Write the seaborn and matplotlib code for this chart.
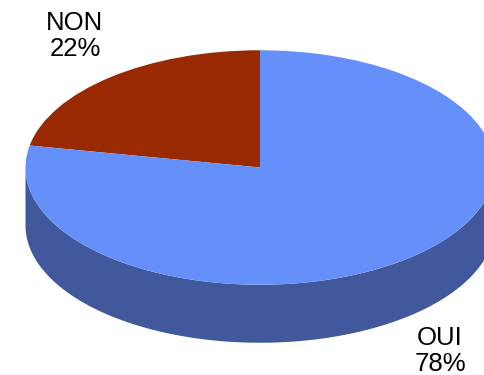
import numpy as np
import matplotlib
matplotlib.use("Agg")
import matplotlib.pyplot as plt
import seaborn as sns

# donnees du sondage
labels = ["NON", "OUI"]
values = [22, 78]
top_colors = ["#992900", "#6690F9"]
side_colors = ["#6e1d00", "#41599C"]

sns.set_style("white")
plt.rcParams['font.family'] = ['Liberation Sans', 'DejaVu Sans']

W, H = 484, 375
fig = plt.figure(figsize=(W / 100, H / 100), dpi=100)
ax = fig.add_axes([0, 0, 1, 1])

# y en demi-pixels -> le cercle du camembert devient une ellipse
def py(y):
    return (H - y) * 2

cx, cy = 260, py(167.5)
r = 234.5
depth = 58 * 2

wedges, _ = ax.pie(values, colors=top_colors, startangle=90, counterclock=True,
                   center=(cx, cy), radius=r, wedgeprops=dict(linewidth=0))
for w in wedges:
    w.set_zorder(3)

# bord visible (face avant, angles 180..360)
for w, col in zip(wedges, side_colors):
    a1, a2 = w.theta1 % 360, w.theta2 % 360
    segs = [(a1, a2)] if a1 < a2 else [(a1, 360), (0, a2)]
    for s1, s2 in segs:
        lo, hi = max(s1, 180), min(s2, 360)
        if lo >= hi:
            continue
        t = np.radians(np.linspace(lo, hi, 200))
        xs = cx + r * np.cos(t)
        ys = cy + r * np.sin(t)
        ax.fill(np.concatenate([xs, xs[::-1]]),
                np.concatenate([ys, ys[::-1] - depth]),
                color=col, lw=0, zorder=2)

ax.set_aspect('auto')
ax.set_xlim(0, W)
ax.set_ylim(0, H * 2)
ax.axis('off')

label_pos = [(75, 36), (440, 351)]
for lab, v, (lx, ly) in zip(labels, values, label_pos):
    ax.text(lx, py(ly), f"{lab}\n{v}%", ha='center', va='center',
            fontsize=18.5, linespacing=1.15, color='black', zorder=5)

fig.savefig("out.png", dpi=100)
